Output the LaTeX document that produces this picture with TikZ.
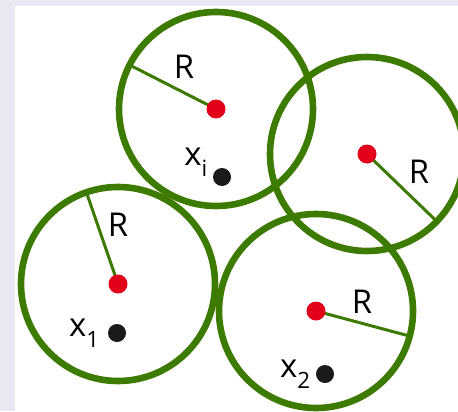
\documentclass[tikz,border=0pt]{standalone}
\usepackage{fontspec}
\setmainfont{Open Sans}
\usepackage{tikz}
\usetikzlibrary{positioning}
\definecolor{ballgreen}{HTML}{3D7A00}
\definecolor{centrered}{HTML}{E2001A}
\definecolor{pointblack}{HTML}{1A1A1A}
\definecolor{pagegray}{HTML}{E8E8F2}
\newcommand{\lowidx}[1]{\raisebox{-5.5pt}{\fontsize{11.2}{13}\selectfont #1}}
\tikzstyle{ball} = [circle, draw=ballgreen, line width=3.3pt, minimum size=97pt, inner sep=0pt, outer sep=0pt]
\tikzstyle{centre} = [circle, fill=centrered, minimum size=9.5pt, inner sep=0pt]
\tikzstyle{point} = [circle, fill=pointblack, minimum size=9pt, inner sep=0pt]
\tikzstyle{radius} = [draw=ballgreen, line width=1.5pt]
\tikzstyle{lbl} = [font=\fontsize{16.4}{19}\selectfont, inner sep=0pt]

\begin{document}
\begin{tikzpicture}[x=0.5pt, y=-0.5pt]
  \useasboundingbox (0,0) rectangle (458,411);
  \fill[pagegray] (0,0) rectangle (458,411);
  \fill[white] (15,6) rectangle (458,411);

  % balls of radius R
  \node (ballA) [ball] at (216,109) {};
  \node (ballB) [ball] at (367,154) {};
  \node (ballC) [ball] at (118,284) {};
  \node (ballD) [ball] at (316,311) {};

  \draw[radius] (ballA.center) -- (ballA.153);
  \draw[radius] (ballB.center) -- (ballB.-44);
  \draw[radius] (ballC.center) -- (ballC.109);
  \draw[radius] (ballD.center) -- (ballD.-15);

  \node (ctrA) [centre] at (ballA.center) {};
  \node (ctrB) [centre] at (ballB.center) {};
  \node (ctrC) [centre] at (ballC.center) {};
  \node (ctrD) [centre] at (ballD.center) {};

  \node (rA) [lbl] at (184,67) {R};
  \node (rB) [lbl] at (419,172) {R};
  \node (rC) [lbl] at (118,225) {R};
  \node (rD) [lbl] at (362,302) {R};

  % data points
  \node (xi) [point] at (222,177) {};
  \node (x1) [point] at (117,333) {};
  \node (x2) [point] at (325,374) {};

  \node (labxi) [lbl, anchor=south east] at ([xshift=-2.5pt]xi.west) {x\lowidx{i}};
  \node (labx1) [lbl, left=4pt of x1] {x\lowidx{1}};
  \node (labx2) [lbl, left=2.5pt of x2] {x\lowidx{2}};
\end{tikzpicture}
\end{document}
